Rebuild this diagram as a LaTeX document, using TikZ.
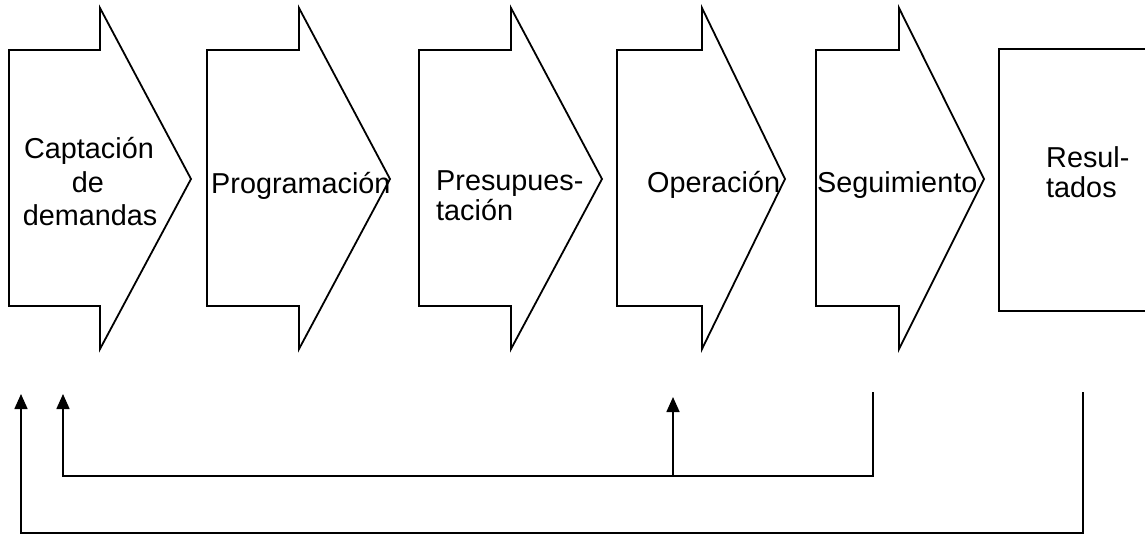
\documentclass[tikz,border=0pt]{standalone}
\usepackage{fontspec}
\setmainfont{Liberation Sans}
\usetikzlibrary{arrows.meta}
\begin{document}
\begin{tikzpicture}[x=1pt,y=-1pt,
  outline/.style={draw=black,line width=1.8pt,line join=miter},
  fb/.style={draw=black,line width=1.6pt},
  fbarrow/.style={fb,-{Triangle[width=13pt,length=15pt]}},
  lbl/.style={inner sep=0pt,anchor=base west,font=\fontsize{28.8}{33}\selectfont},
  clbl/.style={inner sep=0pt,anchor=base,font=\fontsize{28.8}{33}\selectfont}]
\useasboundingbox (0,0) rectangle (1145,535);
% process arrows: #1 left, #2 notch, #3 tip
\foreach \L/\N/\T in {9/100/191, 207/299/390, 419/511/602, 617/702/785, 816/899/984}{
  \draw[outline] (\L,50) -- (\N,50) -- (\N,8) -- (\T,179) -- (\N,349) -- (\N,306) -- (\L,306) -- cycle;
}
% result box (right edge beyond the page)
\draw[outline] (1160,49) -- (999,49) -- (999,311) -- (1160,311);
% labels
\node[clbl] (cap1) at (89,158) {Captación};
\node[clbl] (cap2) at (88,192) {de};
\node[clbl] (cap3) at (90,225) {demandas};
\node[lbl] (prog) at (211,193) {Programación};
\node[lbl] (pres1) at (436,190) {Presupues-};
\node[lbl] (pres2) at (436,220) {tación};
\node[lbl] (oper) at (647,192) {Operación};
\node[lbl] (segu) at (817,192) {Seguimiento};
\node[lbl] (res1) at (1046,167) {Resul-};
\node[lbl] (res2) at (1046,197) {tados};
% feedback coordinates
\coordinate (segTop) at (873,392);
\coordinate (segCorner) at (873,476);
\coordinate (resTop) at (1083,392);
\coordinate (resCorner) at (1083,533);
\coordinate (capInA) at (63,394);
\coordinate (capInACorner) at (63,476);
\coordinate (capInB) at (21,394);
\coordinate (capInBCorner) at (21,533);
\coordinate (opIn) at (673,397);
\coordinate (opBase) at (673,476);
% feedback connectors
\draw[fbarrow] (segTop) -- (segCorner) -- (capInACorner) -- (capInA);
\draw[fbarrow] (opBase) -- (opIn);
\draw[fbarrow] (resTop) -- (resCorner) -- (capInBCorner) -- (capInB);
\end{tikzpicture}
\end{document}
